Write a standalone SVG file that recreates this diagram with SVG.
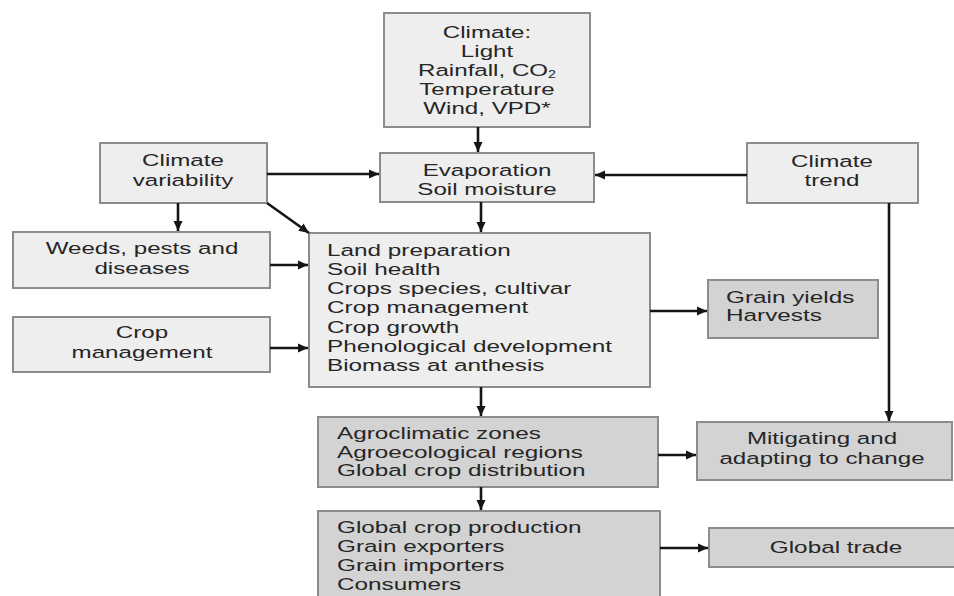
<svg xmlns="http://www.w3.org/2000/svg" width="954" height="596" viewBox="0 0 954 596">
<defs>
<style>
.light{fill:#eeeeee;stroke:#8c8c8c;stroke-width:2}
.dark{fill:#d3d3d3;stroke:#8c8c8c;stroke-width:2}
text{font-family:"Liberation Sans",Arial,sans-serif;font-size:17px;fill:#262626}
.c{text-anchor:middle}
.conn line{stroke:#151515;stroke-width:2.6;marker-end:url(#ah)}
</style>
<marker id="ah" markerUnits="userSpaceOnUse" markerWidth="12" markerHeight="10" refX="10" refY="5" orient="auto">
<path d="M0,0.5 L10,5 L0,9.5 Z" fill="#151515"/>
</marker>
</defs>
<rect width="954" height="596" fill="#ffffff"/>

<g id="climate">
<rect class="light" x="384" y="13" width="206" height="114"/>
<g transform="translate(487,0) scale(1.42,1)">
<text class="c" x="0" y="38">Climate:</text>
<text class="c" x="0" y="57">Light</text>
<text class="c" x="0" y="76">Rainfall, CO<tspan font-size="10" dy="2">2</tspan></text>
<text class="c" x="0" y="95">Temperature</text>
<text class="c" x="0" y="114">Wind, VPD*</text>
</g>
</g>

<g id="climate-variability">
<rect class="light" x="100" y="143" width="167" height="60"/>
<g transform="translate(183,0) scale(1.42,1)">
<text class="c" x="0" y="166">Climate</text>
<text class="c" x="0" y="186">variability</text>
</g>
</g>

<g id="evaporation">
<rect class="light" x="380" y="153" width="214" height="49"/>
<g transform="translate(487,0) scale(1.42,1)">
<text class="c" x="0" y="176">Evaporation</text>
<text class="c" x="0" y="195">Soil moisture</text>
</g>
</g>

<g id="climate-trend">
<rect class="light" x="747" y="143" width="171" height="60"/>
<g transform="translate(832,0) scale(1.42,1)">
<text class="c" x="0" y="167">Climate</text>
<text class="c" x="0" y="186">trend</text>
</g>
</g>

<g id="weeds">
<rect class="light" x="13" y="232" width="257" height="56"/>
<g transform="translate(142,0) scale(1.42,1)">
<text class="c" x="0" y="254">Weeds, pests and</text>
<text class="c" x="0" y="274">diseases</text>
</g>
</g>

<g id="crop-management">
<rect class="light" x="13" y="317" width="257" height="55"/>
<g transform="translate(142,0) scale(1.42,1)">
<text class="c" x="0" y="338">Crop</text>
<text class="c" x="0" y="358">management</text>
</g>
</g>

<g id="crop-processes">
<rect class="light" x="309" y="233" width="341" height="154"/>
<g transform="translate(327,0) scale(1.43,1)">
<text x="0" y="256">Land preparation</text>
<text x="0" y="275">Soil health</text>
<text x="0" y="294">Crops species, cultivar</text>
<text x="0" y="313">Crop management</text>
<text x="0" y="333">Crop growth</text>
<text x="0" y="352">Phenological development</text>
<text x="0" y="371">Biomass at anthesis</text>
</g>
</g>

<g id="grain-yields">
<rect class="dark" x="708" y="280" width="170" height="58"/>
<g transform="translate(726,0) scale(1.43,1)">
<text x="0" y="303">Grain yields</text>
<text x="0" y="321">Harvests</text>
</g>
</g>

<g id="agroclimatic">
<rect class="dark" x="318" y="417" width="340" height="70"/>
<g transform="translate(337,0) scale(1.43,1)">
<text x="0" y="439">Agroclimatic zones</text>
<text x="0" y="458">Agroecological regions</text>
<text x="0" y="476">Global crop distribution</text>
</g>
</g>

<g id="mitigating">
<rect class="dark" x="697" y="422" width="255" height="58"/>
<g transform="translate(822,0) scale(1.42,1)">
<text class="c" x="0" y="444">Mitigating and</text>
<text class="c" x="0" y="464">adapting to change</text>
</g>
</g>

<g id="global-production">
<rect class="dark" x="318" y="511" width="342" height="95"/>
<g transform="translate(337,0) scale(1.43,1)">
<text x="0" y="533">Global crop production</text>
<text x="0" y="552">Grain exporters</text>
<text x="0" y="571">Grain importers</text>
<text x="0" y="590">Consumers</text>
</g>
</g>

<g id="global-trade">
<rect class="dark" x="709" y="528" width="260" height="39"/>
<g transform="translate(836,0) scale(1.43,1)">
<text class="c" x="0" y="553">Global trade</text>
</g>
</g>

<g id="connectors" class="conn">
<line x1="478" y1="127" x2="478" y2="152"/>
<line x1="267" y1="174" x2="379" y2="174"/>
<line x1="747" y1="175" x2="595" y2="175"/>
<line x1="178" y1="203" x2="178" y2="231"/>
<line x1="267" y1="203" x2="309" y2="233"/>
<line x1="481" y1="202" x2="481" y2="232"/>
<line x1="270" y1="265" x2="308" y2="265"/>
<line x1="270" y1="348" x2="308" y2="348"/>
<line x1="650" y1="311" x2="707" y2="311"/>
<line x1="889" y1="203" x2="889" y2="421"/>
<line x1="481" y1="387" x2="481" y2="416"/>
<line x1="658" y1="455" x2="696" y2="455"/>
<line x1="481" y1="487" x2="481" y2="510"/>
<line x1="660" y1="548" x2="708" y2="548"/>
</g>
</svg>
